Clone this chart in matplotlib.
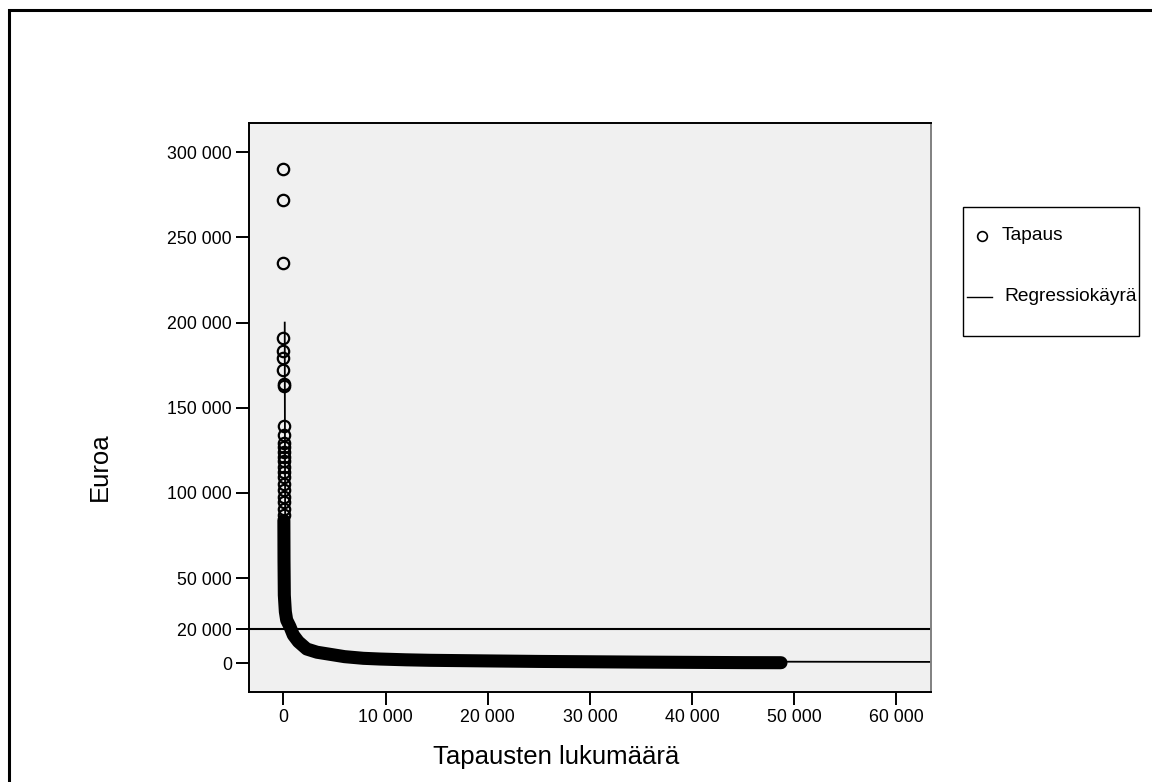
import matplotlib
matplotlib.use("Agg")
import matplotlib.pyplot as plt
from matplotlib.lines import Line2D
from matplotlib.patches import Rectangle

plt.rcParams['font.family'] = ['Liberation Sans', 'DejaVu Sans']

# yksittäiset tapaukset (suurimmat summat, x lähellä nollaa)
case_x = [2, 4, 6, 10, 14, 16, 18, 20, 22, 24, 26, 28, 30, 32, 34, 36, 38, 40, 42, 44, 46, 48, 50, 52, 54]
case_y = [289900, 271700, 234700, 190700, 183100, 179200, 171900, 164100, 162700,
          139100, 133800, 129300, 126900, 124000, 121100, 118700, 115200, 112300,
          109300, 105400, 101500, 97600, 94700, 90800, 86900]

# tiheä tapausjoukko (päällekkäiset ympyrät muodostavat paksun nauhan)
band_x = [56, 70, 100, 200, 330, 650, 980, 1470, 2290, 3300, 4570, 6000, 7830,
          9500, 12000, 14350, 20000, 25000, 30000, 35000, 40000, 45000, 48700]
band_y = [83900, 60000, 40000, 30300, 25400, 21500, 16600, 12700, 8400, 6500, 5280,
          3900, 2930, 2500, 2050, 1760, 1400, 1100, 900, 700, 550, 400, 350]

# regressiokäyrä
reg_x = [140, 150, 200, 330, 650, 980, 1470, 2290, 4570, 7830, 14350, 30000, 48000, 56000, 63400]
reg_y = [200000, 160000, 30300, 25400, 21500, 16600, 12700, 8400, 5280, 2930, 1760,
         1100, 950, 880, 820]

ref_y = 20000

xticks = [0, 10000, 20000, 30000, 40000, 50000, 60000]
yticks = [0, 20000, 50000, 100000, 150000, 200000, 250000, 300000]


def fmt(v):
    return f"{v:,}".replace(",", " ")


W, H = 1152, 782
fig = plt.figure(figsize=(W / 100, H / 100), dpi=100)
ax = fig.add_axes([249.3 / W, 1 - 691.7 / H, (931 - 249.3) / W, (691.7 - 123.3) / H])
ax.set_facecolor('#f0f0f0')

ax.plot(reg_x, reg_y, color='black', lw=1.3, zorder=2)
ax.axhline(ref_y, color='black', lw=1.5, zorder=2)
ax.plot(band_x, band_y, color='black', lw=9.4, solid_capstyle='round',
        solid_joinstyle='round', zorder=3)
ax.plot(case_x, case_y, ls='none', marker='o', ms=8.2, mfc='none', mec='black',
        mew=1.6, zorder=4)

ax.set_xlim(-3327, 63376)
ax.set_ylim(-16670, 317000)
ax.set_xticks(xticks)
ax.set_xticklabels([fmt(v) for v in xticks])
ax.set_yticks(yticks)
ax.set_yticklabels([fmt(v) for v in yticks])
ax.tick_params(direction='out', length=9.5, width=1.4, labelsize=12.8, pad=3,
               colors='black')
for side, sp in ax.spines.items():
    sp.set_linewidth(1.4)
    sp.set_color('black' if side in ('left', 'bottom', 'top') else '#808080')

fig.text(100 / W, 1 - 467 / H, 'Euroa', rotation=90, ha='center', va='center', fontsize=18.5)
fig.text(556 / W, 1 - 757 / H, 'Tapausten lukumäärä', ha='center', va='center', fontsize=18.5)

# selite
fig.add_artist(Rectangle((963.3 / W, 1 - 335.7 / H), (1139 - 963.3) / W, (335.7 - 207.3) / H,
                         transform=fig.transFigure, fill=False, ec='black', lw=1.0))
fig.add_artist(Line2D([981.7 / W], [1 - 236 / H], transform=fig.transFigure, ls='none',
                      marker='o', ms=7, mfc='none', mec='black', mew=1.2))
fig.text(1001.7 / W, 1 - 236 / H, 'Tapaus', ha='left', va='center', fontsize=13.8)
fig.add_artist(Line2D([967 / W, 992 / W], [1 - 296.7 / H] * 2, transform=fig.transFigure,
                      color='black', lw=1.0))
fig.text(1004.3 / W, 1 - 296.7 / H, 'Regressiokäyrä', ha='left', va='center', fontsize=13.8)

# kuvan reunus
fig.add_artist(Rectangle((9 / W, -0.05), 1.2, 1 - 10 / H + 0.05, transform=fig.transFigure,
                         fill=False, ec='black', lw=2.2))

fig.savefig('out.png', dpi=100)
